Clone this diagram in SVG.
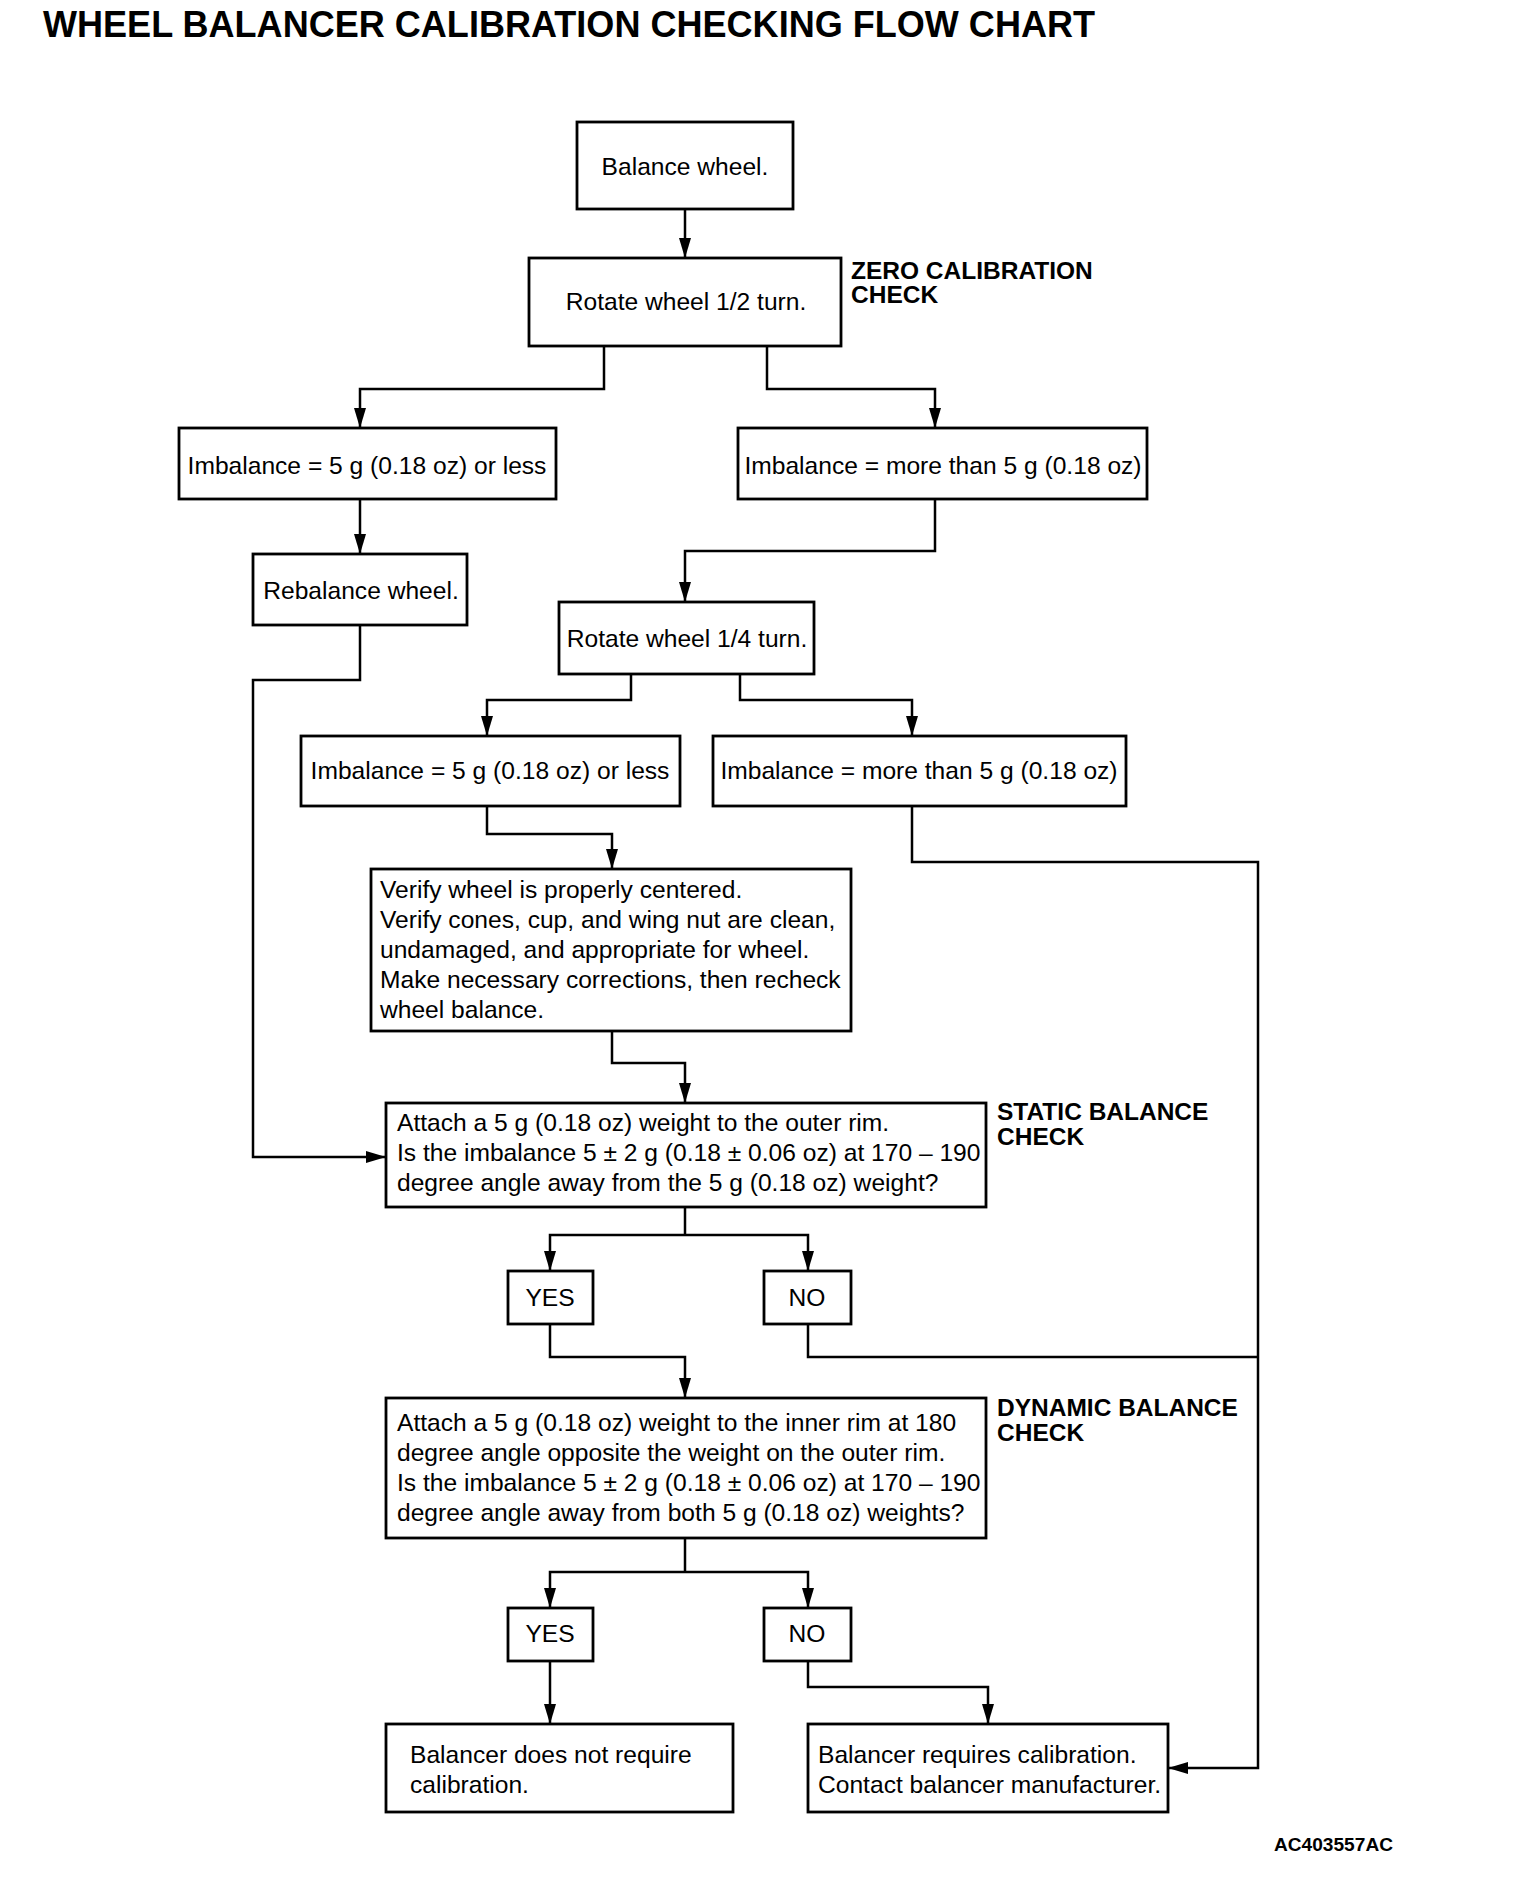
<svg xmlns="http://www.w3.org/2000/svg" width="1536" height="1882" viewBox="0 0 1536 1882">
<defs>
<marker id="arr" markerUnits="userSpaceOnUse" markerWidth="21" markerHeight="13" refX="20" refY="6" orient="auto">
<path d="M0,0 L20,6 L0,12 z" fill="#000"/>
</marker>
<style>
.box{fill:#fff;stroke:#000;stroke-width:2.8}
.t{font-family:"Liberation Sans",Arial,sans-serif;font-size:24.6px;fill:#000}
.c{text-anchor:middle}
.b{font-family:"Liberation Sans",Arial,sans-serif;font-size:24.5px;font-weight:bold;fill:#000}
.ln{fill:none;stroke:#000;stroke-width:2.5}
.ar{fill:none;stroke:#000;stroke-width:2.5;marker-end:url(#arr)}
</style>
</defs>
<rect width="1536" height="1882" fill="#fff"/>
<text x="43" y="37" font-family="Liberation Sans,Arial,sans-serif" font-size="36" font-weight="bold" textLength="1052" lengthAdjust="spacingAndGlyphs">WHEEL BALANCER CALIBRATION CHECKING FLOW CHART</text>

<g id="connectors">
<path class="ar" d="M685,209 V258"/>
<path class="ar" d="M604,346 V389 H360 V428"/>
<path class="ar" d="M767,346 V389 H935 V428"/>
<path class="ar" d="M360,499 V554"/>
<path class="ar" d="M935,499 V551 H685 V602"/>
<path class="ar" d="M360,625 V680 H253 V1157 H386"/>
<path class="ar" d="M631,674 V700 H487 V736"/>
<path class="ar" d="M740,674 V700 H912 V736"/>
<path class="ar" d="M487,806 V834 H612 V869"/>
<path class="ar" d="M612,1031 V1063 H685 V1103"/>
<path class="ln" d="M685,1207 V1235"/>
<path class="ar" d="M685,1235 H550 V1271"/>
<path class="ar" d="M685,1235 H808 V1271"/>
<path class="ar" d="M550,1324 V1357 H685 V1398"/>
<path class="ln" d="M808,1324 V1357 H1258"/>
<path class="ar" d="M912,806 V862 H1258 V1768 H1168"/>
<path class="ln" d="M685,1538 V1572"/>
<path class="ar" d="M685,1572 H550 V1608"/>
<path class="ar" d="M685,1572 H808 V1608"/>
<path class="ar" d="M550,1661 V1724"/>
<path class="ar" d="M808,1661 V1687 H988 V1724"/>
</g>

<g id="balance">
<rect class="box" x="577" y="122" width="216" height="87"/>
<text class="t c" x="685" y="175">Balance wheel.</text>
</g>
<g id="rotate-half">
<rect class="box" x="529" y="258" width="312" height="88"/>
<text class="t c" x="686" y="310">Rotate wheel 1/2 turn.</text>
</g>
<g id="label-zero">
<text class="b" x="851" y="279">ZERO CALIBRATION</text>
<text class="b" x="851" y="303">CHECK</text>
</g>
<g id="imb-less-1">
<rect class="box" x="179" y="428" width="377" height="71"/>
<text class="t c" x="367" y="474">Imbalance = 5 g (0.18 oz) or less</text>
</g>
<g id="imb-more-1">
<rect class="box" x="738" y="428" width="409" height="71"/>
<text class="t c" x="943" y="474">Imbalance = more than 5 g (0.18 oz)</text>
</g>
<g id="rebalance">
<rect class="box" x="253" y="554" width="214" height="71"/>
<text class="t c" x="361" y="599">Rebalance wheel.</text>
</g>
<g id="rotate-quarter">
<rect class="box" x="559" y="602" width="255" height="72"/>
<text class="t c" x="687" y="647">Rotate wheel 1/4 turn.</text>
</g>
<g id="imb-less-2">
<rect class="box" x="301" y="736" width="379" height="70"/>
<text class="t c" x="490" y="779">Imbalance = 5 g (0.18 oz) or less</text>
</g>
<g id="imb-more-2">
<rect class="box" x="713" y="736" width="413" height="70"/>
<text class="t c" x="919" y="779">Imbalance = more than 5 g (0.18 oz)</text>
</g>
<g id="verify">
<rect class="box" x="371" y="869" width="480" height="162"/>
<text class="t" x="380" y="898">Verify wheel is properly centered.</text>
<text class="t" x="380" y="928">Verify cones, cup, and wing nut are clean,</text>
<text class="t" x="380" y="958">undamaged, and appropriate for wheel.</text>
<text class="t" x="380" y="988">Make necessary corrections, then recheck</text>
<text class="t" x="380" y="1018">wheel balance.</text>
</g>
<g id="static">
<rect class="box" x="386" y="1103" width="600" height="104"/>
<text class="t" x="397" y="1131">Attach a 5 g (0.18 oz) weight to the outer rim.</text>
<text class="t" x="397" y="1161">Is the imbalance 5 ± 2 g (0.18 ± 0.06 oz) at 170 – 190</text>
<text class="t" x="397" y="1191">degree angle away from the 5 g (0.18 oz) weight?</text>
</g>
<g id="label-static">
<text class="b" x="997" y="1120">STATIC BALANCE</text>
<text class="b" x="997" y="1145">CHECK</text>
</g>
<g id="yes-1">
<rect class="box" x="508" y="1271" width="85" height="53"/>
<text class="t c" x="550" y="1306">YES</text>
</g>
<g id="no-1">
<rect class="box" x="764" y="1271" width="87" height="53"/>
<text class="t c" x="807" y="1306">NO</text>
</g>
<g id="dynamic">
<rect class="box" x="386" y="1398" width="600" height="140"/>
<text class="t" x="397" y="1431">Attach a 5 g (0.18 oz) weight to the inner rim at 180</text>
<text class="t" x="397" y="1461">degree angle opposite the weight on the outer rim.</text>
<text class="t" x="397" y="1491">Is the imbalance 5 ± 2 g (0.18 ± 0.06 oz) at 170 – 190</text>
<text class="t" x="397" y="1521">degree angle away from both 5 g (0.18 oz) weights?</text>
</g>
<g id="label-dynamic">
<text class="b" x="997" y="1416">DYNAMIC BALANCE</text>
<text class="b" x="997" y="1441">CHECK</text>
</g>
<g id="yes-2">
<rect class="box" x="508" y="1608" width="85" height="53"/>
<text class="t c" x="550" y="1642">YES</text>
</g>
<g id="no-2">
<rect class="box" x="764" y="1608" width="87" height="53"/>
<text class="t c" x="807" y="1642">NO</text>
</g>
<g id="no-calibration">
<rect class="box" x="386" y="1724" width="347" height="88"/>
<text class="t" x="410" y="1763">Balancer does not require</text>
<text class="t" x="410" y="1793">calibration.</text>
</g>
<g id="calibration">
<rect class="box" x="808" y="1724" width="360" height="88"/>
<text class="t" x="818" y="1763">Balancer requires calibration.</text>
<text class="t" x="818" y="1793">Contact balancer manufacturer.</text>
</g>
<text x="1274" y="1851" font-family="Liberation Sans,Arial,sans-serif" font-size="19" font-weight="bold" textLength="119" lengthAdjust="spacingAndGlyphs">AC403557AC</text>
</svg>
